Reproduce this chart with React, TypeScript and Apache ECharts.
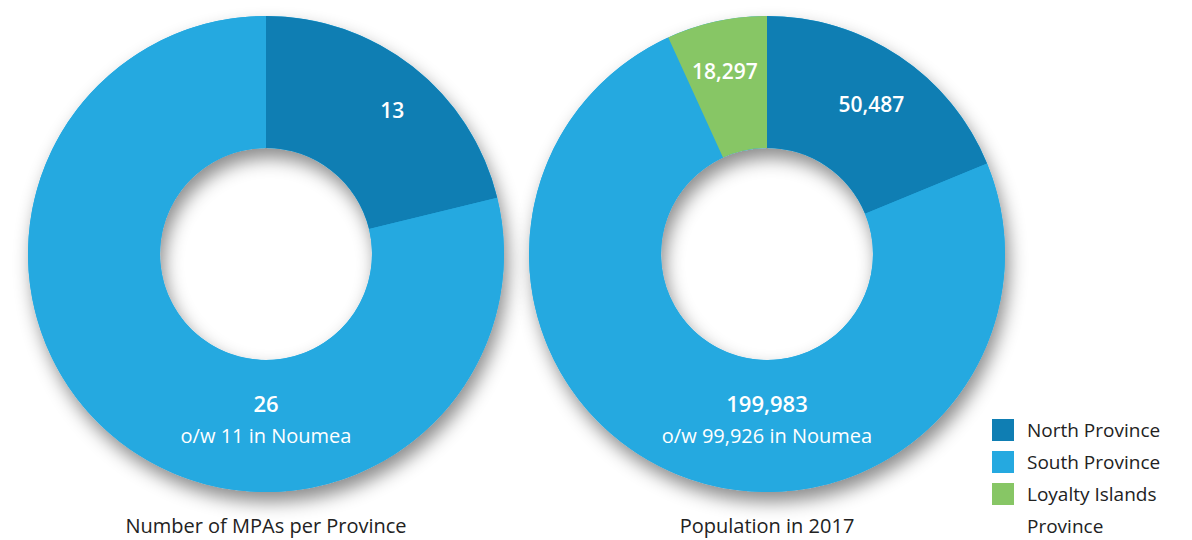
import React, { useEffect, useRef } from "react";
import * as echarts from "echarts";

// ---- data ----
const provinces = ["North Province", "South Province", "Loyalty Islands Province"];
const provinceColors = ["#0F7EB3", "#25A9E0", "#87C665"];

// Number of MPAs per Province (labels as printed)
const mpaLabels = ["13", "26"];
// share of the ring each MPA slice covers in the picture (percent)
const mpaSliceShare = [21.2, 78.8];
const mpaNote = "o/w 11 in Noumea";

// Population in 2017
const population = [50487, 199983, 18297];
const populationNote = "o/w 99,926 in Noumea";

const chartTitles = ["Number of MPAs per Province", "Population in 2017"];

const FONT = "'Open Sans', 'Noto Sans', sans-serif";

export default function App() {
  const ref = useRef<HTMLDivElement>(null);

  useEffect(() => {
    if (!ref.current) return;
    const chart = echarts.init(ref.current, undefined, { renderer: "svg" });

    const centers = [
      [266, 254],
      [767, 254],
    ];
    const radius = [106, 238];

    const southLabel = (value: string, note: string) => ({
      show: true,
      position: "center",
      offset: [0, 165],
      formatter: `{v|${value}}\n{s|${note}}`,
      rich: {
        v: { fontSize: 22, fontWeight: 600, color: "#fff", lineHeight: 32, fontFamily: FONT },
        s: { fontSize: 20, fontWeight: 400, color: "#fff", lineHeight: 32, fontFamily: FONT },
      },
    });

    const insideLabel = (offset: number[]) => ({
      show: true,
      position: "inside",
      offset,
      color: "#fff",
      fontSize: 21,
      fontWeight: 600,
      fontFamily: FONT,
    });

    const shadowRing = (center: number[]) => ({
      type: "pie",
      center,
      radius,
      silent: true,
      label: { show: false },
      labelLine: { show: false },
      emphasis: { disabled: true },
      itemStyle: {
        color: provinceColors[1],
        shadowBlur: 18,
        shadowOffsetX: 4,
        shadowOffsetY: 10,
        shadowColor: "rgba(0,0,0,0.45)",
      },
      data: [{ value: 1, name: "" }],
    });

    const fmt = (n: number) => n.toLocaleString("en-US");

    const option = {
      animation: false,
      backgroundColor: "#fff",
      title: chartTitles.map((t, i) => ({
        text: t,
        left: centers[i][0],
        top: 515,
        textAlign: "center",
        padding: 0,
        textStyle: { fontSize: 20, fontWeight: 400, color: "#222", fontFamily: FONT },
      })),
      legend: [
        {
          data: provinces.slice(0, 2),
          orient: "vertical",
          left: 992,
          top: 419,
          padding: 0,
          itemWidth: 22,
          itemHeight: 22,
          itemGap: 10,
          icon: "rect",
          selectedMode: false,
          textStyle: {
            fontSize: 19,
            lineHeight: 22,
            color: "#222",
            fontFamily: FONT,
            padding: [0, 0, 0, 8],
          },
        },
        {
          data: provinces.slice(2),
          orient: "vertical",
          left: 992,
          top: 446,
          padding: 0,
          itemWidth: 22,
          itemHeight: 22,
          icon: "rect",
          selectedMode: false,
          formatter: () => "\nLoyalty Islands\nProvince",
          textStyle: {
            fontSize: 19,
            lineHeight: 32,
            color: "#222",
            fontFamily: FONT,
            padding: [0, 0, 0, 8],
          },
        },
      ],
      series: [
        shadowRing(centers[0]),
        shadowRing(centers[1]),
        {
          type: "pie",
          center: centers[0],
          radius,
          startAngle: 90,
          clockwise: true,
          silent: true,
          emphasis: { disabled: true },
          labelLine: { show: false },
          data: mpaSliceShare.map((v, i) => ({
            value: v,
            name: provinces[i],
            itemStyle: { color: provinceColors[i] },
            label:
              i === 1
                ? southLabel(mpaLabels[i], mpaNote)
                : { ...insideLabel([18, -6]), formatter: mpaLabels[i] },
          })),
        },
        {
          type: "pie",
          center: centers[1],
          radius,
          startAngle: 90,
          clockwise: true,
          silent: true,
          emphasis: { disabled: true },
          labelLine: { show: false },
          data: population.map((v, i) => ({
            value: v,
            name: provinces[i],
            itemStyle: { color: provinceColors[i] },
            label:
              i === 1
                ? southLabel(fmt(v), populationNote)
                : { ...insideLabel(i === 0 ? [7, -5] : [-5, -12]), formatter: fmt(v) },
          })),
        },
      ],
    };

    chart.setOption(option as any);
    return () => chart.dispose();
  }, []);

  return (
    <div
      ref={ref}
      style={{ position: "fixed", left: 0, top: 0, width: 1192, height: 540, background: "#fff" }}
    />
  );
}
